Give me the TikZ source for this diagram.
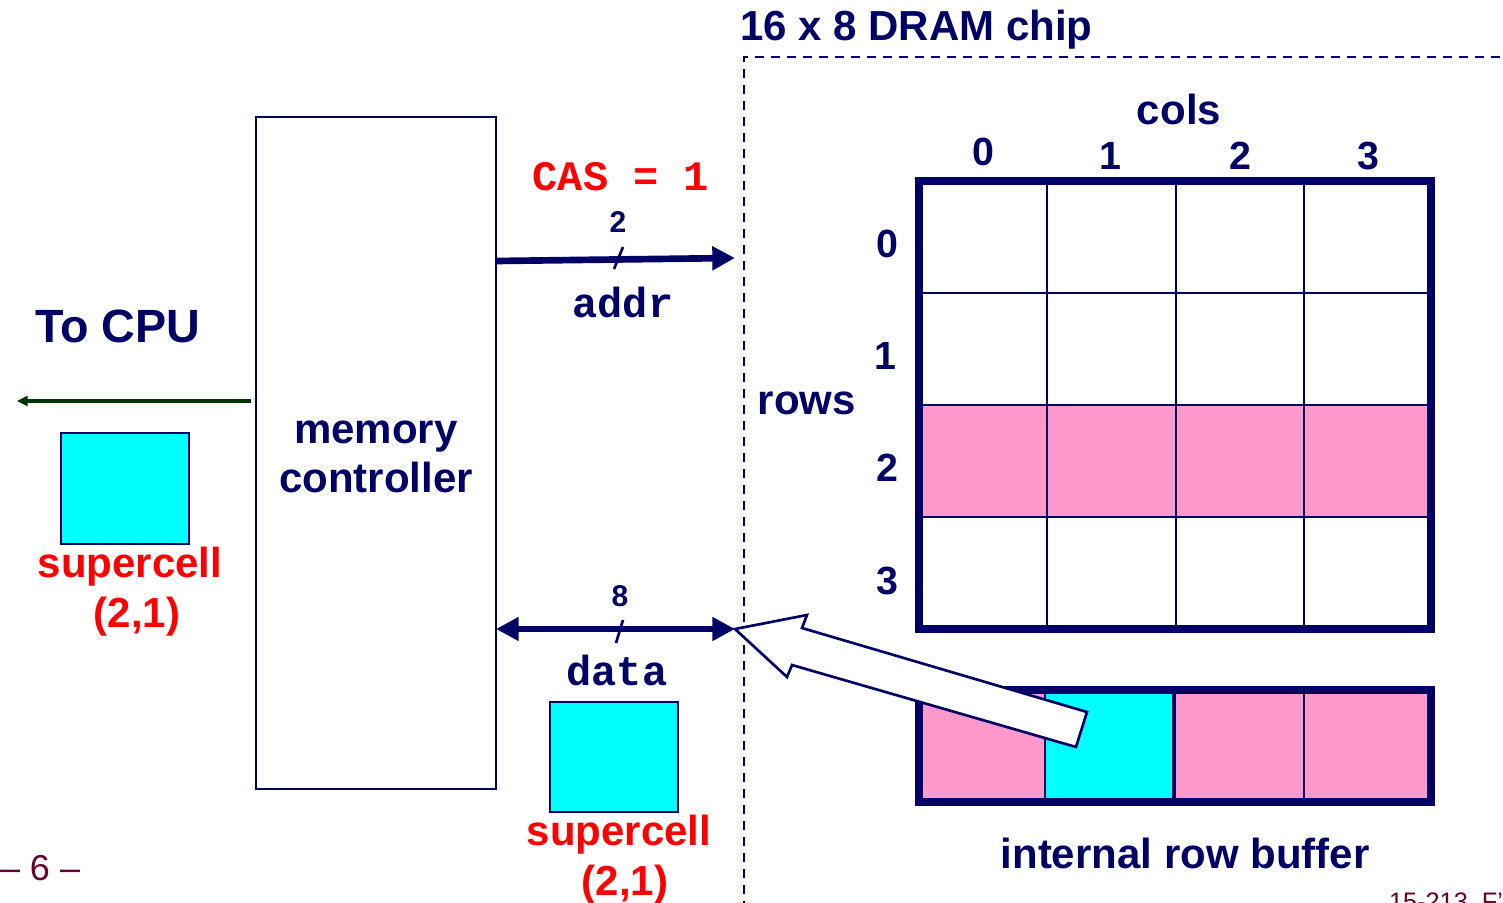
\documentclass[tikz,border=0pt]{standalone}
\usepackage{fontspec}
\setmainfont{Liberation Sans}
\setmonofont{Liberation Mono}
\usetikzlibrary{arrows.meta}
\definecolor{navy}{RGB}{0,0,102}
\definecolor{pinkc}{RGB}{255,153,204}
\definecolor{cyanc}{RGB}{0,255,255}
\definecolor{redc}{RGB}{255,0,0}
\definecolor{greenc}{RGB}{0,51,0}
\definecolor{maroonc}{RGB}{102,0,51}
\begin{document}
\begin{tikzpicture}[x=0.75pt,y=-0.75pt, outer sep=0pt,
  lbl/.style={inner sep=0pt, anchor=base, text=navy, font=\bfseries\fontsize{31.5}{36}\selectfont},
  biglbl/.style={lbl, font=\bfseries\fontsize{35}{40}\selectfont},
  numlbl/.style={lbl, font=\bfseries\fontsize{29.5}{34}\selectfont},
  smalllbl/.style={lbl, font=\bfseries\fontsize{22.5}{26}\selectfont},
  redlbl/.style={lbl, text=redc},
  monolbl/.style={lbl, font=\ttfamily\bfseries\fontsize{31.5}{36}\selectfont},
  footlbl/.style={inner sep=0pt, text=maroonc},
  cellbox/.style={draw=navy, fill=cyanc, line width=1.8pt, inner sep=0pt, anchor=north west},
  bus/.style={draw=navy, line width=5pt, -{Triangle[length=17pt,width=17pt]}},
  dbus/.style={draw=navy, line width=5pt, {Triangle[length=17pt,width=17pt]}-{Triangle[length=17pt,width=17pt]}},
  tick/.style={draw=navy, line width=2pt},
  chipframe/.style={draw=navy, line width=2.2pt, dash pattern=on 7pt off 5pt},
  thin/.style={draw=navy, line width=1.5pt},
  thick/.style={draw=navy, line width=6pt},
]
\useasboundingbox (0,0) rectangle (1503,903);

% chip frame
\coordinate (fc) at (744,57);
\draw[chipframe] (744,910) -- (fc) -- (1510,57);
\node[lbl, anchor=base west] (chiptitle) at (740,40) {16 x 8 DRAM chip};

% memory controller
\node[draw=navy, line width=1.5pt, minimum width=180pt, minimum height=504pt, inner sep=0pt, anchor=north west] (mc) at (256,117) {};
\node[lbl] (mc1) at (376,443) {memory};
\node[lbl] (mc2) at (376,492) {controller};

% To CPU
\node[biglbl] (tocpu) at (118,342) {To CPU};
\coordinate (cpu) at (17,401);
\draw[draw=greenc, line width=3pt, -{Triangle[length=8pt,width=7.5pt]}] (mc.west |- cpu) ++(-5,0) -- (cpu);

% left supercell
\node[cellbox, minimum width=96pt, minimum height=83.25pt] (sc1) at (61,433) {};
\node[redlbl] (sc1a) at (130,577) {supercell};
\node[redlbl] (sc1b) at (137,627) {(2,1)};

% addr bus
\coordinate (addrS) at (496,261);
\coordinate (addrE) at (735,258);
\draw[bus] (addrS) -- (addrE);
\draw[tick] (614,269) -- (623,247);
\node[smalllbl] (n2) at (618,232) {2};
\node[monolbl] (addr) at (623,317) {addr};
\node[monolbl, text=redc] (cas) at (621,190) {CAS = 1};

% data bus
\coordinate (dataS) at (496,629);
\coordinate (dataE) at (735,629);
\draw[dbus] (dataS) -- (dataE);
\draw[tick] (616,643) -- (623,620);
\node[smalllbl] (n8) at (620,606) {8};
\node[monolbl] (data) at (617,685) {data};

% right supercell
\node[cellbox, minimum width=96pt, minimum height=82.5pt] (sc2) at (550,702) {};
\node[redlbl] (sc2a) at (619,845) {supercell};
\node[redlbl] (sc2b) at (625,895) {(2,1)};

% DRAM array
\fill[pinkc] (919,405) rectangle (1431,517);
\foreach \x in {1047,1176,1304} \draw[thin] (\x,181) -- (\x,629);
\foreach \y in {293,405,517} \draw[thin] (919,\y) -- (1431,\y);
\node[thick, minimum width=384pt, minimum height=336pt, inner sep=0pt, anchor=north west] (grid) at (919,181) {};

\node[lbl] (cols) at (1179,124) {cols};
\node[numlbl] (c0) at (983,165) {0};
\node[numlbl] (c1) at (1110,169) {1};
\node[numlbl] (c2) at (1240,169) {2};
\node[numlbl] (c3) at (1368,169) {3};
\node[numlbl] (r0) at (887,257) {0};
\node[numlbl] (r1) at (885,369) {1};
\node[numlbl] (r2) at (887,481) {2};
\node[numlbl] (r3) at (887,594) {3};
\node[lbl] (rows) at (807,414) {rows};

% row buffer
\fill[pinkc] (919,690) rectangle (1431,802);
\fill[cyanc] (1045,690) rectangle (1174,802);
\foreach \x in {1045,1304} \draw[thin] (\x,690) -- (\x,802);
\draw[draw=navy, line width=3pt] (1174,690) -- (1174,802);
\node[thick, minimum width=384pt, minimum height=84pt, inner sep=0pt, anchor=north west] (rowbuf) at (919,690) {};
\node[lbl] (rblabel) at (1185,868) {internal row buffer};

% hollow arrow from row buffer to data bus
\filldraw[fill=white, draw=navy, line width=2pt, line join=miter]
  (dataE) -- (807,615) -- (802,628) -- (1087,712) -- (1076,747) -- (792,665) -- (787,677) -- cycle;

% footers
\node[footlbl, anchor=base west, font=\fontsize{27}{30}\selectfont] (pg) at (0,880) {– 6 –};
\node[footlbl, anchor=base west, font=\fontsize{19}{22}\selectfont] (course) at (1389,910) {15-213, F’02};
\end{tikzpicture}
\end{document}
